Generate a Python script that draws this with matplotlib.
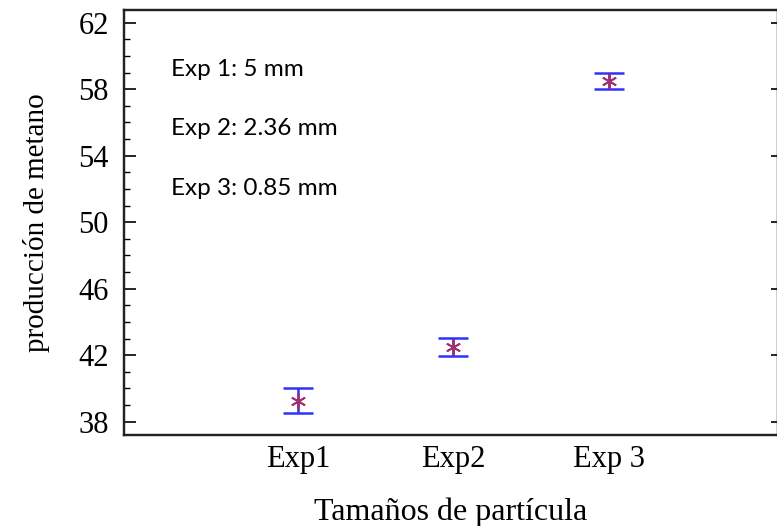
import matplotlib
matplotlib.use("Agg")
from matplotlib import pyplot as plt
from matplotlib.ticker import MultipleLocator

# mean methane production per particle size, with error half-widths
groups = ["Exp1", "Exp2", "Exp 3"]
means = [39.25, 42.5, 58.5]
errors = [0.75, 0.52, 0.5]
y_ticks = [38, 42, 46, 50, 54, 58, 62]
notes = ["Exp 1: 5 mm", "Exp 2: 2.36 mm", "Exp 3: 0.85 mm"]

serif = ["Liberation Serif", "DejaVu Serif"]

fig = plt.figure(figsize=(7.77, 5.26), dpi=100)
ax = fig.add_axes([0.1596, 0.173, 0.8414, 0.808])

x = list(range(1, len(groups) + 1))
ax.errorbar(x, means, yerr=errors, fmt="none", ecolor="#3030ff",
            elinewidth=1.8, capsize=11, capthick=1.8, zorder=2)
ax.plot(x, means, linestyle="none", marker=(6, 2, 0), markersize=11,
        color="#a03070", markeredgewidth=1.3, zorder=3)

ax.set_xlim(-0.12, 4.09)
ax.set_ylim(37.2, 62.76)

ax.set_xticks(x)
ax.set_xticklabels(groups, family=serif, fontsize=22)
ax.tick_params(axis="x", length=0, pad=7)

ax.set_yticks(y_ticks)
ax.set_yticklabels([str(v) for v in y_ticks], family=serif, fontsize=22)
ax.yaxis.set_minor_locator(MultipleLocator(1))
ax.tick_params(axis="y", which="major", direction="in", length=8.6, width=1.2, pad=11)
ax.tick_params(axis="y", which="minor", direction="in", length=4.3, width=1.0)

# short inward ticks on the right side, majors only
ax2 = ax.twinx()
ax2.set_ylim(ax.get_ylim())
ax2.set_yticks(y_ticks)
ax2.set_yticklabels([])
ax2.tick_params(axis="y", direction="in", length=5, width=1.2)

for a in (ax, ax2):
    for s in a.spines.values():
        s.set_linewidth(1.6)
        s.set_color("#222222")

ax.set_xlabel("Tamaños de partícula", family=serif, fontsize=23, labelpad=17)
ax.set_ylabel("producción de metano", family=serif, fontsize=21, labelpad=20)

for i, t in enumerate(notes):
    ax.text(0.072, 0.861 - i * 0.14, t, transform=ax.transAxes,
            family=["Lato", "DejaVu Sans"], fontsize=17.5, va="center", ha="left")

fig.savefig("out.png", dpi=100)
